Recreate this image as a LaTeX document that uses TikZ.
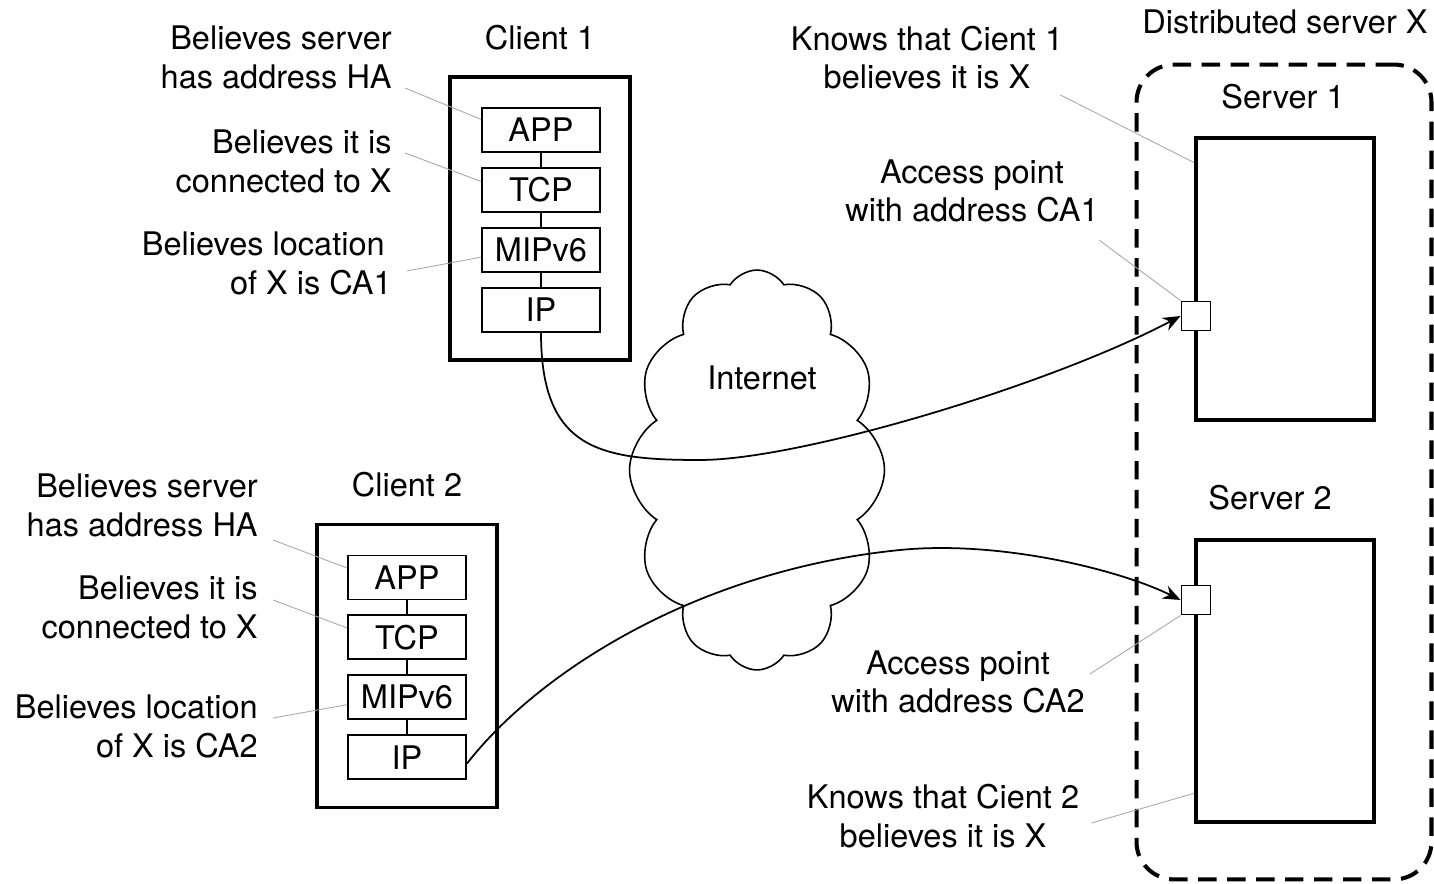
\documentclass[tikz,border=0pt]{standalone}
\usepackage{fontspec}
\setmainfont{TeX Gyre Heros}
\usetikzlibrary{positioning,shapes.symbols,arrows.meta}
\definecolor{leadgray}{HTML}{A8A8A8}

\begin{document}
\begin{tikzpicture}[
        x=0.02cm, y=-0.02cm,
        every node/.style={
            inner sep=0pt,
            align=center,
            font=\fontsize{18.5}{22}\selectfont
        },
        layer/.style={
            draw,
            line width=1.1pt,
            minimum width=2.36cm,
            minimum height=0.88cm
        },
        host/.style={
            draw,
            line width=2.2pt,
            minimum width=3.6cm,
            minimum height=5.66cm
        },
        server/.style={
            draw,
            line width=2.2pt,
            minimum width=3.56cm,
            minimum height=5.64cm
        },
        accesspt/.style={
            draw,
            fill=white,
            line width=1.1pt,
            minimum size=0.58cm
        },
        note/.style={
            anchor=east,
            align=right
        },
        link/.style={
            line width=0.8pt
        },
        leader/.style={
            color=leadgray,
            line width=0.5pt
        },
        flow/.style={
            -{Stealth[length=10pt,width=8pt]},
            line width=1pt
        }
    ]
    \useasboundingbox (0,0) rectangle (1434,884);

    % distributed server X
    \node (distx) [draw, line width=2.3pt, dash pattern=on 10.5pt off 6pt,
        rounded corners=0.75cm, minimum width=5.9cm, minimum height=16.3cm] at (1284,472) {};
    \node (distlbl) at (1285,22) {Distributed server X};

    \node (srv1) [server] at (1285,279) {};
    \node (srv1lbl) at (1283,97) {Server 1};
    \node (ap1) [accesspt] at (1196,316) {};

    \node (srv2) [server] at (1285,681) {};
    \node (srv2lbl) at (1270,498) {Server 2};
    \node (ap2) [accesspt] at (1196,600) {};

    % internet
    \node (cloud) [cloud, draw, line width=0.9pt, cloud puffs=12, cloud puff arc=115,
        aspect=0.64, minimum width=5.1cm, minimum height=8cm] at (757,470) {};
    \node (inet) at (762,378) {Internet};

    % client 1
    \node (host1) [host] at (540,218.5) {};
    \node (cl1) at (540,38) {Client 1};
    \node (app1) [layer] at (541,130) {APP};
    \node (tcp1) [layer, below=0.28cm of app1] {TCP};
    \node (mip1) [layer, below=0.28cm of tcp1] {MIPv6};
    \node (ip1) [layer, below=0.28cm of mip1] {IP};
    \draw[link] (app1) -- (tcp1);
    \draw[link] (tcp1) -- (mip1);
    \draw[link] (mip1) -- (ip1);

    \node (ha1) [note] at (392,57.5) {Believes server\\has address HA};
    \node (cx1) [note] at (392,161.5) {Believes it is\\connected to X};
    \node (ca1) [note] at (392,263.5) {Believes location\hspace*{0.14cm}\\of X is CA1};
    \draw[leader] ([shift={(13,30.5)}]ha1.east) -- (app1.170);
    \draw[leader] ([shift={(13,-8.5)}]cx1.east) -- (tcp1.172);
    \draw[leader] ([shift={(15,7.5)}]ca1.east) -- (mip1.187);

    % client 2
    \node (host2) [host] at (407,666) {};
    \node (cl2) at (407,485) {Client 2};
    \node (app2) [layer] at (407,577.5) {APP};
    \node (tcp2) [layer, below=0.28cm of app2] {TCP};
    \node (mip2) [layer, below=0.28cm of tcp2] {MIPv6};
    \node (ip2) [layer, below=0.28cm of mip2] {IP};
    \draw[link] (app2) -- (tcp2);
    \draw[link] (tcp2) -- (mip2);
    \draw[link] (mip2) -- (ip2);

    \node (ha2) [note] at (258,505.5) {Believes server\\has address HA};
    \node (cx2) [note] at (258,607.5) {Believes it is\\connected to X};
    \node (ca2) [note] at (258,726.5) {Believes location\\of X is CA2};
    \draw[leader] ([shift={(15,34.5)}]ha2.east) -- (app2.171);
    \draw[leader] ([shift={(15,-7.5)}]cx2.east) -- (tcp2.171);
    \draw[leader] ([shift={(15,-8.5)}]ca2.east) -- (mip2.187);

    % server side notes
    \node (kn1) at (927,57.5) {Knows that Cient 1\\believes it is X};
    \node (apn1) at (972,191) {Access point\\with address CA1};
    \node (apn2) at (958,682) {Access point\\with address CA2};
    \node (kn2) at (943,816) {Knows that Cient 2\\believes it is X};
    \draw[leader] ([shift={(-3,37.5)}]kn1.east) -- (srv1.128);
    \draw[leader] ([shift={(0,49)}]apn1.east) -- (ap1.north west);
    \draw[leader] ([shift={(5,-8)}]apn2.east) -- (ap2.south west);
    \draw[leader] ([shift={(12,7)}]kn2.east) -- (srv2.231.8);

    % connections
    \draw[flow] (ip1.south) .. controls (541,450) and (600,460) .. (700,460)
        .. controls (800,460) and (1050,385) .. (ap1.west);
    \draw[flow] (ip2.354) .. controls (540,670) and (700,570) .. (900,550)
        .. controls (1000,540) and (1120,570) .. (ap2.west);
\end{tikzpicture}
\end{document}
